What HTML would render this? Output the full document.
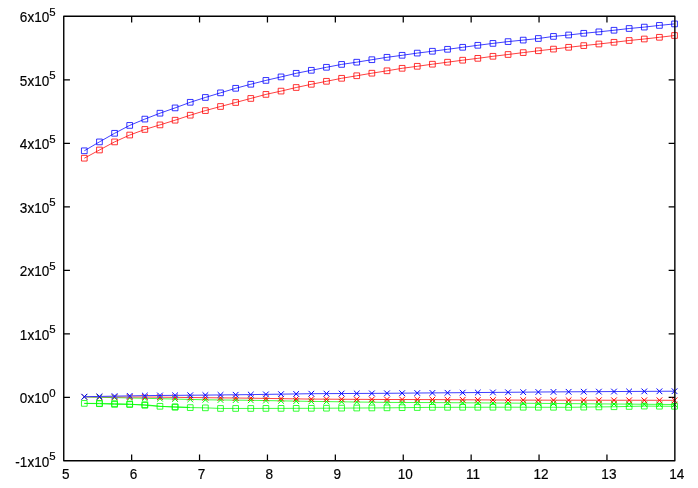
<!DOCTYPE html>
<html><head><meta charset="utf-8"><title>plot</title>
<style>
html,body{margin:0;padding:0;background:#fff;}
body{width:698px;height:488px;overflow:hidden;font-family:"Liberation Sans",sans-serif;}
svg{display:block;will-change:transform;opacity:0.999;}
text{font-family:"Liberation Sans",sans-serif;fill:#000;stroke:#000;stroke-width:0.18px;}
.m{font-size:14px;}
.s{font-size:11.4px;}
</style></head><body>
<svg width="698" height="488" viewBox="0 0 698 488">
<rect width="698" height="488" fill="#fff"/>
<path fill="none" stroke="#000" stroke-width="1.25" d="M63.75 79.79h6.2M674.85 79.79h-6.2M63.75 143.29h6.2M674.85 143.29h-6.2M63.75 206.78h6.2M674.85 206.78h-6.2M63.75 270.27h6.2M674.85 270.27h-6.2M63.75 333.76h6.2M674.85 333.76h-6.2M63.75 397.26h6.2M674.85 397.26h-6.2M131.65 460.75v-6.2M131.65 16.3v6.2M199.55 460.75v-6.2M199.55 16.3v6.2M267.45 460.75v-6.2M267.45 16.3v6.2M335.35 460.75v-6.2M335.35 16.3v6.2M403.25 460.75v-6.2M403.25 16.3v6.2M471.15 460.75v-6.2M471.15 16.3v6.2M539.05 460.75v-6.2M539.05 16.3v6.2M606.95 460.75v-6.2M606.95 16.3v6.2"/>
<text class="s" x="55.65" y="15.7" text-anchor="end">5</text>
<text class="m" transform="translate(49.3,22.25) scale(0.97,1.01)" text-anchor="end">6x10</text>
<text class="s" x="55.65" y="79.19" text-anchor="end">5</text>
<text class="m" transform="translate(49.3,85.74) scale(0.97,1.01)" text-anchor="end">5x10</text>
<text class="s" x="55.65" y="142.69" text-anchor="end">5</text>
<text class="m" transform="translate(49.3,149.24) scale(0.97,1.01)" text-anchor="end">4x10</text>
<text class="s" x="55.65" y="206.18" text-anchor="end">5</text>
<text class="m" transform="translate(49.3,212.73) scale(0.97,1.01)" text-anchor="end">3x10</text>
<text class="s" x="55.65" y="269.67" text-anchor="end">5</text>
<text class="m" transform="translate(49.3,276.22) scale(0.97,1.01)" text-anchor="end">2x10</text>
<text class="s" x="55.65" y="333.16" text-anchor="end">5</text>
<text class="m" transform="translate(49.3,339.71) scale(0.97,1.01)" text-anchor="end">1x10</text>
<text class="s" x="55.65" y="396.66" text-anchor="end">0</text>
<text class="m" transform="translate(49.3,403.21) scale(0.97,1.01)" text-anchor="end">0x10</text>
<text class="s" x="55.65" y="460.15" text-anchor="end">5</text>
<text class="m" transform="translate(49.3,466.7) scale(0.97,1.01)" text-anchor="end">-1x10</text>
<text class="m" transform="translate(65.7,478.7) scale(0.97,1.01)" text-anchor="middle">5</text>
<text class="m" transform="translate(133.6,478.7) scale(0.97,1.01)" text-anchor="middle">6</text>
<text class="m" transform="translate(201.5,478.7) scale(0.97,1.01)" text-anchor="middle">7</text>
<text class="m" transform="translate(269.4,478.7) scale(0.97,1.01)" text-anchor="middle">8</text>
<text class="m" transform="translate(337.3,478.7) scale(0.97,1.01)" text-anchor="middle">9</text>
<text class="m" transform="translate(405.2,478.7) scale(0.97,1.01)" text-anchor="middle">10</text>
<text class="m" transform="translate(473.1,478.7) scale(0.97,1.01)" text-anchor="middle">11</text>
<text class="m" transform="translate(541,478.7) scale(0.97,1.01)" text-anchor="middle">12</text>
<text class="m" transform="translate(608.9,478.7) scale(0.97,1.01)" text-anchor="middle">13</text>
<text class="m" transform="translate(676.8,478.7) scale(0.97,1.01)" text-anchor="middle">14</text>
<polyline fill="none" stroke="#f00" stroke-width="0.75" points="84.3,158.2 99.44,150 114.57,141.9 129.7,135.05 144.84,129.45 159.97,124.9 175.11,120.2 190.25,115.2 205.38,110.6 220.51,106.5 235.65,102.5 250.78,98.45 265.92,94.4 281.06,91.1 296.19,87.5 311.32,84.3 326.46,81.3 341.6,78.3 356.73,75.75 371.87,73.2 387,70.8 402.13,68.3 417.27,66.3 432.41,64.2 447.54,62.2 462.68,60.2 477.81,58.35 492.94,56.3 508.08,54.5 523.22,52.6 538.35,50.75 553.49,49.1 568.62,47.3 583.75,45.6 598.89,44 614.02,42.3 629.16,40.5 644.29,39 659.43,37.3 674.56,35.5"/>
<path fill="none" stroke="#f00" stroke-width="0.8" d="M81.45 155.35h5.7v5.7h-5.7zM96.59 147.15h5.7v5.7h-5.7zM111.72 139.05h5.7v5.7h-5.7zM126.85 132.2h5.7v5.7h-5.7zM141.99 126.6h5.7v5.7h-5.7zM157.12 122.05h5.7v5.7h-5.7zM172.26 117.35h5.7v5.7h-5.7zM187.4 112.35h5.7v5.7h-5.7zM202.53 107.75h5.7v5.7h-5.7zM217.66 103.65h5.7v5.7h-5.7zM232.8 99.65h5.7v5.7h-5.7zM247.93 95.6h5.7v5.7h-5.7zM263.07 91.55h5.7v5.7h-5.7zM278.2 88.25h5.7v5.7h-5.7zM293.34 84.65h5.7v5.7h-5.7zM308.47 81.45h5.7v5.7h-5.7zM323.61 78.45h5.7v5.7h-5.7zM338.75 75.45h5.7v5.7h-5.7zM353.88 72.9h5.7v5.7h-5.7zM369.01 70.35h5.7v5.7h-5.7zM384.15 67.95h5.7v5.7h-5.7zM399.28 65.45h5.7v5.7h-5.7zM414.42 63.45h5.7v5.7h-5.7zM429.56 61.35h5.7v5.7h-5.7zM444.69 59.35h5.7v5.7h-5.7zM459.82 57.35h5.7v5.7h-5.7zM474.96 55.5h5.7v5.7h-5.7zM490.09 53.45h5.7v5.7h-5.7zM505.23 51.65h5.7v5.7h-5.7zM520.37 49.75h5.7v5.7h-5.7zM535.5 47.9h5.7v5.7h-5.7zM550.63 46.25h5.7v5.7h-5.7zM565.77 44.45h5.7v5.7h-5.7zM580.9 42.75h5.7v5.7h-5.7zM596.04 41.15h5.7v5.7h-5.7zM611.17 39.45h5.7v5.7h-5.7zM626.31 37.65h5.7v5.7h-5.7zM641.44 36.15h5.7v5.7h-5.7zM656.58 34.45h5.7v5.7h-5.7zM671.71 32.65h5.7v5.7h-5.7z"/>
<polyline fill="none" stroke="#0f0" stroke-width="0.75" points="84.3,403.4 99.44,403.7 114.57,404.4 129.7,404.5 144.84,404.7 159.97,406.3 175.11,407.2 190.25,407.6 205.38,407.85 220.51,408.45 235.65,408.45 250.78,408.45 265.92,408.41 281.06,408.38 296.19,408.34 311.32,408.3 326.46,408.21 341.6,408.12 356.73,408.03 371.87,407.94 387,407.85 402.13,407.68 417.27,407.52 432.41,407.35 447.54,407.32 462.68,407.29 477.81,407.26 492.94,407.23 508.08,407.2 523.22,407.23 538.35,407.25 553.49,407.27 568.62,407.3 583.75,407.12 598.89,406.93 614.02,406.75 629.16,406.43 644.29,406.1 659.43,406.2 674.56,406.3"/>
<path fill="none" stroke="#0f0" stroke-width="0.8" d="M81.45 400.55h5.7v5.7h-5.7zM96.59 400.85h5.7v5.7h-5.7zM111.72 401.55h5.7v5.7h-5.7zM126.85 401.65h5.7v5.7h-5.7zM141.99 401.85h5.7v5.7h-5.7zM157.12 403.45h5.7v5.7h-5.7zM172.26 404.35h5.7v5.7h-5.7zM187.4 404.75h5.7v5.7h-5.7zM202.53 405h5.7v5.7h-5.7zM217.66 405.6h5.7v5.7h-5.7zM232.8 405.6h5.7v5.7h-5.7zM247.93 405.6h5.7v5.7h-5.7zM263.07 405.56h5.7v5.7h-5.7zM278.2 405.52h5.7v5.7h-5.7zM293.34 405.49h5.7v5.7h-5.7zM308.47 405.45h5.7v5.7h-5.7zM323.61 405.36h5.7v5.7h-5.7zM338.75 405.27h5.7v5.7h-5.7zM353.88 405.18h5.7v5.7h-5.7zM369.01 405.09h5.7v5.7h-5.7zM384.15 405h5.7v5.7h-5.7zM399.28 404.83h5.7v5.7h-5.7zM414.42 404.67h5.7v5.7h-5.7zM429.56 404.5h5.7v5.7h-5.7zM444.69 404.47h5.7v5.7h-5.7zM459.82 404.44h5.7v5.7h-5.7zM474.96 404.41h5.7v5.7h-5.7zM490.09 404.38h5.7v5.7h-5.7zM505.23 404.35h5.7v5.7h-5.7zM520.37 404.38h5.7v5.7h-5.7zM535.5 404.4h5.7v5.7h-5.7zM550.63 404.42h5.7v5.7h-5.7zM565.77 404.45h5.7v5.7h-5.7zM580.9 404.27h5.7v5.7h-5.7zM596.04 404.08h5.7v5.7h-5.7zM611.17 403.9h5.7v5.7h-5.7zM626.31 403.57h5.7v5.7h-5.7zM641.44 403.25h5.7v5.7h-5.7zM656.58 403.35h5.7v5.7h-5.7zM671.71 403.45h5.7v5.7h-5.7z"/>
<path fill="none" stroke="#0f0" stroke-width="0.75" d="M84.3 403.4L99.44 403.4M99.44 403.4L114.57 403.6M114.57 403.6L129.7 404.1M129.7 404.1L144.84 405.3M144.84 405.3L159.97 406.4M159.97 406.4L175.11 406.8M175.11 406.8L190.25 407.4"/>
<path fill="none" stroke="#0f0" stroke-width="0.8" d="M96.59 400.55h5.7v5.7h-5.7zM111.72 400.75h5.7v5.7h-5.7zM126.85 401.25h5.7v5.7h-5.7zM141.99 402.45h5.7v5.7h-5.7zM172.26 403.95h5.7v5.7h-5.7z"/>
<polyline fill="none" stroke="#0f0" stroke-width="0.75" points="84.3,396.95 99.44,397.29 114.57,397.62 129.7,397.96 144.84,398.3 159.97,398.68 175.11,399.05 190.25,399.43 205.38,399.8 220.51,399.97 235.65,400.13 250.78,400.3 265.92,400.57 281.06,400.85 296.19,401.12 311.32,401.4 326.46,401.6 341.6,401.8 356.73,402 371.87,402.2 387,402.4 402.13,402.47 417.27,402.53 432.41,402.6 447.54,402.7 462.68,402.8 477.81,402.9 492.94,403 508.08,403.1 523.22,403.23 538.35,403.37 553.49,403.5 568.62,403.62 583.75,403.75 598.89,403.88 614.02,404 629.16,404.12 644.29,404.25 659.43,404.38 674.56,404.5"/>
<path fill="none" stroke="#0f0" stroke-width="1.0" d="M81.45 394.1l5.7 5.7M81.45 399.8l5.7 -5.7M96.59 394.44l5.7 5.7M96.59 400.14l5.7 -5.7M111.72 394.77l5.7 5.7M111.72 400.48l5.7 -5.7M126.85 395.11l5.7 5.7M126.85 400.81l5.7 -5.7M141.99 395.45l5.7 5.7M141.99 401.15l5.7 -5.7M157.12 395.82l5.7 5.7M157.12 401.53l5.7 -5.7M172.26 396.2l5.7 5.7M172.26 401.9l5.7 -5.7M187.4 396.57l5.7 5.7M187.4 402.28l5.7 -5.7M202.53 396.95l5.7 5.7M202.53 402.65l5.7 -5.7M217.66 397.12l5.7 5.7M217.66 402.82l5.7 -5.7M232.8 397.28l5.7 5.7M232.8 402.98l5.7 -5.7M247.93 397.45l5.7 5.7M247.93 403.15l5.7 -5.7M263.07 397.72l5.7 5.7M263.07 403.43l5.7 -5.7M278.2 398l5.7 5.7M278.2 403.7l5.7 -5.7M293.34 398.27l5.7 5.7M293.34 403.98l5.7 -5.7M308.47 398.55l5.7 5.7M308.47 404.25l5.7 -5.7M323.61 398.75l5.7 5.7M323.61 404.45l5.7 -5.7M338.75 398.95l5.7 5.7M338.75 404.65l5.7 -5.7M353.88 399.15l5.7 5.7M353.88 404.85l5.7 -5.7M369.01 399.35l5.7 5.7M369.01 405.05l5.7 -5.7M384.15 399.55l5.7 5.7M384.15 405.25l5.7 -5.7M399.28 399.62l5.7 5.7M399.28 405.32l5.7 -5.7M414.42 399.68l5.7 5.7M414.42 405.38l5.7 -5.7M429.56 399.75l5.7 5.7M429.56 405.45l5.7 -5.7M444.69 399.85l5.7 5.7M444.69 405.55l5.7 -5.7M459.82 399.95l5.7 5.7M459.82 405.65l5.7 -5.7M474.96 400.05l5.7 5.7M474.96 405.75l5.7 -5.7M490.09 400.15l5.7 5.7M490.09 405.85l5.7 -5.7M505.23 400.25l5.7 5.7M505.23 405.95l5.7 -5.7M520.37 400.38l5.7 5.7M520.37 406.08l5.7 -5.7M535.5 400.52l5.7 5.7M535.5 406.22l5.7 -5.7M550.63 400.65l5.7 5.7M550.63 406.35l5.7 -5.7M565.77 400.77l5.7 5.7M565.77 406.48l5.7 -5.7M580.9 400.9l5.7 5.7M580.9 406.6l5.7 -5.7M596.04 401.02l5.7 5.7M596.04 406.73l5.7 -5.7M611.17 401.15l5.7 5.7M611.17 406.85l5.7 -5.7M626.31 401.27l5.7 5.7M626.31 406.98l5.7 -5.7M641.44 401.4l5.7 5.7M641.44 407.1l5.7 -5.7M656.58 401.52l5.7 5.7M656.58 407.23l5.7 -5.7M671.71 401.65l5.7 5.7M671.71 407.35l5.7 -5.7"/>
<polyline fill="none" stroke="#f00" stroke-width="0.75" points="84.3,396.8 99.44,396.85 114.57,396.9 129.7,396.95 144.84,397 159.97,397.18 175.11,397.35 190.25,397.52 205.38,397.7 220.51,397.87 235.65,398.03 250.78,398.2 265.92,398.43 281.06,398.65 296.19,398.88 311.32,399.1 326.46,399.18 341.6,399.26 356.73,399.34 371.87,399.42 387,399.5 402.13,399.53 417.27,399.57 432.41,399.6 447.54,399.69 462.68,399.78 477.81,399.87 492.94,399.96 508.08,400.05 523.22,400.1 538.35,400.15 553.49,400.2 568.62,400.21 583.75,400.23 598.89,400.24 614.02,400.25 629.16,400.26 644.29,400.27 659.43,400.29 674.56,400.3"/>
<path fill="none" stroke="#f00" stroke-width="1.0" d="M81.45 393.95l5.7 5.7M81.45 399.65l5.7 -5.7M96.59 394l5.7 5.7M96.59 399.7l5.7 -5.7M111.72 394.05l5.7 5.7M111.72 399.75l5.7 -5.7M126.85 394.1l5.7 5.7M126.85 399.8l5.7 -5.7M141.99 394.15l5.7 5.7M141.99 399.85l5.7 -5.7M157.12 394.32l5.7 5.7M157.12 400.03l5.7 -5.7M172.26 394.5l5.7 5.7M172.26 400.2l5.7 -5.7M187.4 394.67l5.7 5.7M187.4 400.38l5.7 -5.7M202.53 394.85l5.7 5.7M202.53 400.55l5.7 -5.7M217.66 395.02l5.7 5.7M217.66 400.72l5.7 -5.7M232.8 395.18l5.7 5.7M232.8 400.88l5.7 -5.7M247.93 395.35l5.7 5.7M247.93 401.05l5.7 -5.7M263.07 395.57l5.7 5.7M263.07 401.28l5.7 -5.7M278.2 395.8l5.7 5.7M278.2 401.5l5.7 -5.7M293.34 396.02l5.7 5.7M293.34 401.73l5.7 -5.7M308.47 396.25l5.7 5.7M308.47 401.95l5.7 -5.7M323.61 396.33l5.7 5.7M323.61 402.03l5.7 -5.7M338.75 396.41l5.7 5.7M338.75 402.11l5.7 -5.7M353.88 396.49l5.7 5.7M353.88 402.19l5.7 -5.7M369.01 396.57l5.7 5.7M369.01 402.27l5.7 -5.7M384.15 396.65l5.7 5.7M384.15 402.35l5.7 -5.7M399.28 396.68l5.7 5.7M399.28 402.38l5.7 -5.7M414.42 396.72l5.7 5.7M414.42 402.42l5.7 -5.7M429.56 396.75l5.7 5.7M429.56 402.45l5.7 -5.7M444.69 396.84l5.7 5.7M444.69 402.54l5.7 -5.7M459.82 396.93l5.7 5.7M459.82 402.63l5.7 -5.7M474.96 397.02l5.7 5.7M474.96 402.72l5.7 -5.7M490.09 397.11l5.7 5.7M490.09 402.81l5.7 -5.7M505.23 397.2l5.7 5.7M505.23 402.9l5.7 -5.7M520.37 397.25l5.7 5.7M520.37 402.95l5.7 -5.7M535.5 397.3l5.7 5.7M535.5 403l5.7 -5.7M550.63 397.35l5.7 5.7M550.63 403.05l5.7 -5.7M565.77 397.36l5.7 5.7M565.77 403.06l5.7 -5.7M580.9 397.38l5.7 5.7M580.9 403.08l5.7 -5.7M596.04 397.39l5.7 5.7M596.04 403.09l5.7 -5.7M611.17 397.4l5.7 5.7M611.17 403.1l5.7 -5.7M626.31 397.41l5.7 5.7M626.31 403.11l5.7 -5.7M641.44 397.42l5.7 5.7M641.44 403.12l5.7 -5.7M656.58 397.44l5.7 5.7M656.58 403.14l5.7 -5.7M671.71 397.45l5.7 5.7M671.71 403.15l5.7 -5.7"/>
<polyline fill="none" stroke="#00f" stroke-width="0.75" points="84.3,150.8 99.44,141.9 114.57,133.3 129.7,125.4 144.84,119.1 159.97,113.2 175.11,107.9 190.25,102.3 205.38,97.45 220.51,92.85 235.65,88.3 250.78,84.25 265.92,80.4 281.06,76.9 296.19,73.3 311.32,70.3 326.46,67.3 341.6,64.4 356.73,62.2 371.87,59.7 387,57.3 402.13,55.3 417.27,53.1 432.41,51.25 447.54,49.3 462.68,47.3 477.81,45.3 492.94,43.4 508.08,41.6 523.22,40.1 538.35,38.5 553.49,36.4 568.62,35 583.75,33.3 598.89,31.85 614.02,30.25 629.16,28.5 644.29,27.1 659.43,25.4 674.56,23.9"/>
<path fill="none" stroke="#00f" stroke-width="0.8" d="M81.45 147.95h5.7v5.7h-5.7zM96.59 139.05h5.7v5.7h-5.7zM111.72 130.45h5.7v5.7h-5.7zM126.85 122.55h5.7v5.7h-5.7zM141.99 116.25h5.7v5.7h-5.7zM157.12 110.35h5.7v5.7h-5.7zM172.26 105.05h5.7v5.7h-5.7zM187.4 99.45h5.7v5.7h-5.7zM202.53 94.6h5.7v5.7h-5.7zM217.66 90h5.7v5.7h-5.7zM232.8 85.45h5.7v5.7h-5.7zM247.93 81.4h5.7v5.7h-5.7zM263.07 77.55h5.7v5.7h-5.7zM278.2 74.05h5.7v5.7h-5.7zM293.34 70.45h5.7v5.7h-5.7zM308.47 67.45h5.7v5.7h-5.7zM323.61 64.45h5.7v5.7h-5.7zM338.75 61.55h5.7v5.7h-5.7zM353.88 59.35h5.7v5.7h-5.7zM369.01 56.85h5.7v5.7h-5.7zM384.15 54.45h5.7v5.7h-5.7zM399.28 52.45h5.7v5.7h-5.7zM414.42 50.25h5.7v5.7h-5.7zM429.56 48.4h5.7v5.7h-5.7zM444.69 46.45h5.7v5.7h-5.7zM459.82 44.45h5.7v5.7h-5.7zM474.96 42.45h5.7v5.7h-5.7zM490.09 40.55h5.7v5.7h-5.7zM505.23 38.75h5.7v5.7h-5.7zM520.37 37.25h5.7v5.7h-5.7zM535.5 35.65h5.7v5.7h-5.7zM550.63 33.55h5.7v5.7h-5.7zM565.77 32.15h5.7v5.7h-5.7zM580.9 30.45h5.7v5.7h-5.7zM596.04 29h5.7v5.7h-5.7zM611.17 27.4h5.7v5.7h-5.7zM626.31 25.65h5.7v5.7h-5.7zM641.44 24.25h5.7v5.7h-5.7zM656.58 22.55h5.7v5.7h-5.7zM671.71 21.05h5.7v5.7h-5.7z"/>
<polyline fill="none" stroke="#fff" stroke-width="0.75" points="84.3,396.7 99.44,396.43 114.57,396.15 129.7,395.88 144.84,395.6 159.97,395.48 175.11,395.35 190.25,395.23 205.38,395.1 220.51,394.93 235.65,394.77 250.78,394.6 265.92,394.38 281.06,394.15 296.19,393.93 311.32,393.7 326.46,393.62 341.6,393.54 356.73,393.46 371.87,393.38 387,393.3 402.13,393.17 417.27,393.03 432.41,392.9 447.54,392.78 462.68,392.66 477.81,392.54 492.94,392.42 508.08,392.3 523.22,392.17 538.35,392.03 553.49,391.9 568.62,391.81 583.75,391.72 598.89,391.64 614.02,391.55 629.16,391.46 644.29,391.38 659.43,391.29 674.56,391.2"/>
<path fill="none" stroke="#fff" stroke-width="1.0" d="M81.45 393.85l5.7 5.7M81.45 399.55l5.7 -5.7M96.59 393.57l5.7 5.7M96.59 399.28l5.7 -5.7M111.72 393.3l5.7 5.7M111.72 399l5.7 -5.7M126.85 393.02l5.7 5.7M126.85 398.73l5.7 -5.7M141.99 392.75l5.7 5.7M141.99 398.45l5.7 -5.7M157.12 392.62l5.7 5.7M157.12 398.33l5.7 -5.7M172.26 392.5l5.7 5.7M172.26 398.2l5.7 -5.7M187.4 392.38l5.7 5.7M187.4 398.08l5.7 -5.7M202.53 392.25l5.7 5.7M202.53 397.95l5.7 -5.7M217.66 392.08l5.7 5.7M217.66 397.78l5.7 -5.7M232.8 391.92l5.7 5.7M232.8 397.62l5.7 -5.7M247.93 391.75l5.7 5.7M247.93 397.45l5.7 -5.7M263.07 391.52l5.7 5.7M263.07 397.23l5.7 -5.7M278.2 391.3l5.7 5.7M278.2 397l5.7 -5.7M293.34 391.07l5.7 5.7M293.34 396.78l5.7 -5.7M308.47 390.85l5.7 5.7M308.47 396.55l5.7 -5.7M323.61 390.77l5.7 5.7M323.61 396.47l5.7 -5.7M338.75 390.69l5.7 5.7M338.75 396.39l5.7 -5.7M353.88 390.61l5.7 5.7M353.88 396.31l5.7 -5.7M369.01 390.53l5.7 5.7M369.01 396.23l5.7 -5.7M384.15 390.45l5.7 5.7M384.15 396.15l5.7 -5.7M399.28 390.32l5.7 5.7M399.28 396.02l5.7 -5.7M414.42 390.18l5.7 5.7M414.42 395.88l5.7 -5.7M429.56 390.05l5.7 5.7M429.56 395.75l5.7 -5.7M444.69 389.93l5.7 5.7M444.69 395.63l5.7 -5.7M459.82 389.81l5.7 5.7M459.82 395.51l5.7 -5.7M474.96 389.69l5.7 5.7M474.96 395.39l5.7 -5.7M490.09 389.57l5.7 5.7M490.09 395.27l5.7 -5.7M505.23 389.45l5.7 5.7M505.23 395.15l5.7 -5.7M520.37 389.32l5.7 5.7M520.37 395.02l5.7 -5.7M535.5 389.18l5.7 5.7M535.5 394.88l5.7 -5.7M550.63 389.05l5.7 5.7M550.63 394.75l5.7 -5.7M565.77 388.96l5.7 5.7M565.77 394.66l5.7 -5.7M580.9 388.87l5.7 5.7M580.9 394.57l5.7 -5.7M596.04 388.79l5.7 5.7M596.04 394.49l5.7 -5.7M611.17 388.7l5.7 5.7M611.17 394.4l5.7 -5.7M626.31 388.61l5.7 5.7M626.31 394.31l5.7 -5.7M641.44 388.52l5.7 5.7M641.44 394.23l5.7 -5.7M656.58 388.44l5.7 5.7M656.58 394.14l5.7 -5.7M671.71 388.35l5.7 5.7M671.71 394.05l5.7 -5.7"/>
<polyline fill="none" stroke="#00f" stroke-width="0.75" points="84.3,396.7 99.44,396.43 114.57,396.15 129.7,395.88 144.84,395.6 159.97,395.48 175.11,395.35 190.25,395.23 205.38,395.1 220.51,394.93 235.65,394.77 250.78,394.6 265.92,394.38 281.06,394.15 296.19,393.93 311.32,393.7 326.46,393.62 341.6,393.54 356.73,393.46 371.87,393.38 387,393.3 402.13,393.17 417.27,393.03 432.41,392.9 447.54,392.78 462.68,392.66 477.81,392.54 492.94,392.42 508.08,392.3 523.22,392.17 538.35,392.03 553.49,391.9 568.62,391.81 583.75,391.72 598.89,391.64 614.02,391.55 629.16,391.46 644.29,391.38 659.43,391.29 674.56,391.2"/>
<path fill="none" stroke="#00f" stroke-width="1.0" d="M81.45 393.85l5.7 5.7M81.45 399.55l5.7 -5.7M96.59 393.57l5.7 5.7M96.59 399.28l5.7 -5.7M111.72 393.3l5.7 5.7M111.72 399l5.7 -5.7M126.85 393.02l5.7 5.7M126.85 398.73l5.7 -5.7M141.99 392.75l5.7 5.7M141.99 398.45l5.7 -5.7M157.12 392.62l5.7 5.7M157.12 398.33l5.7 -5.7M172.26 392.5l5.7 5.7M172.26 398.2l5.7 -5.7M187.4 392.38l5.7 5.7M187.4 398.08l5.7 -5.7M202.53 392.25l5.7 5.7M202.53 397.95l5.7 -5.7M217.66 392.08l5.7 5.7M217.66 397.78l5.7 -5.7M232.8 391.92l5.7 5.7M232.8 397.62l5.7 -5.7M247.93 391.75l5.7 5.7M247.93 397.45l5.7 -5.7M263.07 391.52l5.7 5.7M263.07 397.23l5.7 -5.7M278.2 391.3l5.7 5.7M278.2 397l5.7 -5.7M293.34 391.07l5.7 5.7M293.34 396.78l5.7 -5.7M308.47 390.85l5.7 5.7M308.47 396.55l5.7 -5.7M323.61 390.77l5.7 5.7M323.61 396.47l5.7 -5.7M338.75 390.69l5.7 5.7M338.75 396.39l5.7 -5.7M353.88 390.61l5.7 5.7M353.88 396.31l5.7 -5.7M369.01 390.53l5.7 5.7M369.01 396.23l5.7 -5.7M384.15 390.45l5.7 5.7M384.15 396.15l5.7 -5.7M399.28 390.32l5.7 5.7M399.28 396.02l5.7 -5.7M414.42 390.18l5.7 5.7M414.42 395.88l5.7 -5.7M429.56 390.05l5.7 5.7M429.56 395.75l5.7 -5.7M444.69 389.93l5.7 5.7M444.69 395.63l5.7 -5.7M459.82 389.81l5.7 5.7M459.82 395.51l5.7 -5.7M474.96 389.69l5.7 5.7M474.96 395.39l5.7 -5.7M490.09 389.57l5.7 5.7M490.09 395.27l5.7 -5.7M505.23 389.45l5.7 5.7M505.23 395.15l5.7 -5.7M520.37 389.32l5.7 5.7M520.37 395.02l5.7 -5.7M535.5 389.18l5.7 5.7M535.5 394.88l5.7 -5.7M550.63 389.05l5.7 5.7M550.63 394.75l5.7 -5.7M565.77 388.96l5.7 5.7M565.77 394.66l5.7 -5.7M580.9 388.87l5.7 5.7M580.9 394.57l5.7 -5.7M596.04 388.79l5.7 5.7M596.04 394.49l5.7 -5.7M611.17 388.7l5.7 5.7M611.17 394.4l5.7 -5.7M626.31 388.61l5.7 5.7M626.31 394.31l5.7 -5.7M641.44 388.52l5.7 5.7M641.44 394.23l5.7 -5.7M656.58 388.44l5.7 5.7M656.58 394.14l5.7 -5.7M671.71 388.35l5.7 5.7M671.71 394.05l5.7 -5.7"/>
<rect x="63.75" y="16.3" width="611.1" height="444.45" fill="none" stroke="#000" stroke-width="1.4" stroke-linejoin="round"/>
</svg></body></html>
